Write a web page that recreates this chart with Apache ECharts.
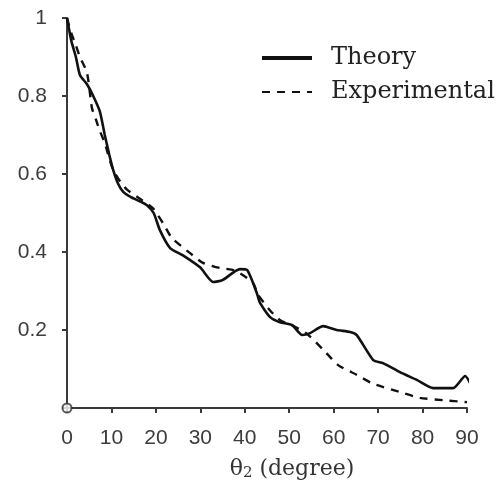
<!DOCTYPE html>
<html>
<head>
<meta charset="utf-8">
<script src="https://cdn.jsdelivr.net/npm/echarts@6/dist/echarts.min.js"></script>
<style>html,body{margin:0;padding:0;background:#fff}#c{width:496px;height:492px}</style>
</head>
<body>
<div id="c"></div>
<script>
var theoryX = [0, 1, 2, 2.9, 4.5, 5.9, 7.4, 8.5, 9.5, 10.4, 11.5, 12.6, 14.5, 16.4, 18, 19.5, 20.9, 23.2, 26, 30, 32.9, 35, 38.9, 40.5, 42.7, 43.4, 45.7, 47.9, 50.6, 52.9, 54.7, 57.6, 60.7, 63.7, 65.2, 68.9, 71.1, 74.9, 78.7, 82.4, 86.9, 89.6, 90.7];
var theoryY = [1.0, 0.94, 0.9, 0.854, 0.83, 0.80, 0.76, 0.70, 0.65, 0.61, 0.575, 0.555, 0.54, 0.53, 0.52, 0.50, 0.456, 0.41, 0.392, 0.36, 0.323, 0.328, 0.356, 0.354, 0.295, 0.27, 0.233, 0.22, 0.213, 0.187, 0.192, 0.21, 0.20, 0.195, 0.187, 0.123, 0.115, 0.092, 0.072, 0.051, 0.051, 0.082, 0.064];
var expX = [0, 1, 2, 2.9, 4.5, 5.6, 6.5, 7.4, 8.5, 9.5, 10.4, 12, 13.5, 16, 18.5, 19.5, 21.6, 23.6, 27.7, 30.6, 34.4, 37, 39, 41.9, 43, 45.7, 48, 51, 54, 57.6, 61, 65.2, 68.9, 74.9, 79.4, 84.6, 90];
var expY = [1.0, 0.96, 0.93, 0.9, 0.86, 0.77, 0.74, 0.71, 0.68, 0.64, 0.61, 0.58, 0.56, 0.54, 0.52, 0.51, 0.474, 0.436, 0.397, 0.372, 0.359, 0.355, 0.345, 0.32, 0.29, 0.25, 0.225, 0.21, 0.19, 0.15, 0.11, 0.085, 0.062, 0.041, 0.026, 0.02, 0.015];
var originPoint = [[0, 0]];
var xTicks = [0, 10, 20, 30, 40, 50, 60, 70, 80, 90];
var yTicks = [0.2, 0.4, 0.6, 0.8, 1];
var seriesNames = ['Theory', 'Experimental'];

function zip(xs, ys) { return xs.map(function (x, i) { return [x, ys[i]]; }); }

var chart = echarts.init(document.getElementById('c'), null, { renderer: 'canvas' });
var axisColor = '#3a3a3a';
var labelColor = '#3c3c3c';
chart.setOption({
  animation: false,
  backgroundColor: '#fff',
  grid: { left: 67, right: 29, top: 18, bottom: 84 },
  legend: {
    orient: 'vertical', left: 255, top: 40, itemGap: 8,
    itemWidth: 50, itemHeight: 14,
    data: [
      { name: seriesNames[0], lineStyle: { width: 4 } },
      { name: seriesNames[1], lineStyle: { width: 2 } }
    ],
    itemStyle: { opacity: 0 },
    textStyle: { fontFamily: 'DejaVu Serif', fontSize: 24, lineHeight: 26, color: '#222', padding: [0, 0, 0, 14] }
  },
  xAxis: {
    type: 'value', min: 0, max: 90, interval: 10,
    name: 'θ{s|2} (degree)', nameLocation: 'middle', nameGap: 50,
    nameTextStyle: {
      fontFamily: 'DejaVu Serif', fontSize: 22, color: '#333', padding: [0, 0, 0, 50],
      rich: { s: { fontFamily: 'DejaVu Serif', fontSize: 15, color: '#333', verticalAlign: 'bottom', padding: [8, 0, 0, 0] } }
    },
    axisLine: { lineStyle: { color: axisColor, width: 2 } },
    axisTick: { show: true, length: 5, lineStyle: { color: axisColor, width: 2 } },
    splitLine: { show: false },
    axisLabel: {
      fontFamily: 'Liberation Sans', fontSize: 21, color: labelColor, margin: 20,
      formatter: function (v) { return xTicks.indexOf(v) >= 0 ? String(v) : ''; }
    }
  },
  yAxis: {
    type: 'value', min: 0, max: 1, interval: 0.2,
    axisLine: { show: true, lineStyle: { color: axisColor, width: 2 } },
    axisTick: { show: true, length: 5, lineStyle: { color: axisColor, width: 2 } },
    splitLine: { show: false },
    axisLabel: {
      fontFamily: 'Liberation Sans', fontSize: 21, color: labelColor, margin: 20,
      formatter: function (v) {
        var r = Math.round(v * 10) / 10;
        return yTicks.indexOf(r) >= 0 ? String(r) : '';
      }
    }
  },
  series: [
    {
      name: seriesNames[0], type: 'line', data: zip(theoryX, theoryY),
      symbol: 'none', smooth: 0.2, clip: false,
      lineStyle: { color: '#111', width: 2.6 },
      itemStyle: { color: '#111' }
    },
    {
      name: seriesNames[1], type: 'line', data: zip(expX, expY),
      symbol: 'none', smooth: 0.2,
      lineStyle: { color: '#111', width: 2.4, type: [8, 7] },
      itemStyle: { color: '#111' }
    },
    {
      name: 'origin', type: 'scatter', data: originPoint,
      symbol: 'emptyCircle', symbolSize: 9, clip: false,
      itemStyle: { color: '#333', borderColor: '#333', borderWidth: 2 },
      z: 5
    }
  ]
});
</script>
</body>
</html>
